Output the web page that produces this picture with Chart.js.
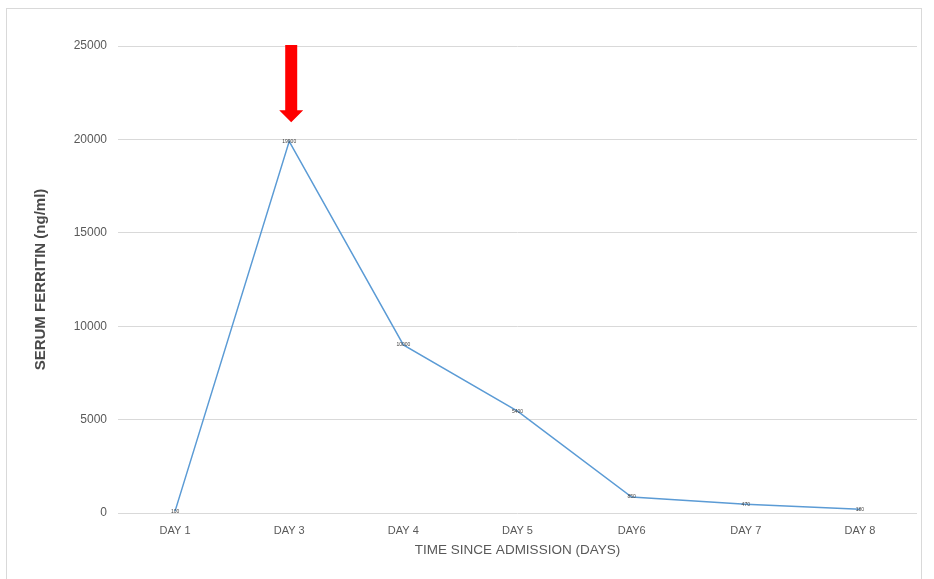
<!DOCTYPE html>
<html><head><meta charset="utf-8">
<script src="https://cdn.jsdelivr.net/npm/chart.js@4.4.1/dist/chart.umd.min.js"></script>
<style>
html,body{margin:0;padding:0;background:#fff;}
#wrap{position:absolute;left:6px;top:8px;width:914px;height:572px;border:1px solid #d9d9d9;background:#fff;}
canvas{display:block;}
</style></head>
<body>
<div id="wrap"><canvas id="c" width="914" height="572"></canvas></div>
<script>
const categories = ['DAY 1','DAY 3','DAY 4','DAY 5','DAY6','DAY 7','DAY 8'];
const ferritin = [100, 19900, 9000, 5450, 850, 470, 200];
const pointLabels = ['100','19900','10000','5400','850','470','180'];
const yTicks = [0, 5000, 10000, 15000, 20000, 25000];
const markedDay = 'DAY 3';

const FONT = "'Liberation Sans',sans-serif";
const grey = '#595959';

const labelPlugin = {
  id: 'labels',
  afterDatasetsDraw(chart) {
    const ctx = chart.ctx;
    const meta = chart.getDatasetMeta(0);
    ctx.save();
    ctx.font = '5px ' + FONT;
    ctx.fillStyle = '#404040';
    ctx.textAlign = 'center';
    ctx.textBaseline = 'middle';
    meta.data.forEach((pt, i) => ctx.fillText(pointLabels[i], pt.x, pt.y));
    ctx.restore();
  }
};

const arrowPlugin = {
  id: 'arrow',
  afterDatasetsDraw(chart) {
    const ctx = chart.ctx;
    const xs = chart.scales.x, ys = chart.scales.y;
    const idx = categories.indexOf(markedDay);
    const x = xs.getPixelForValue(idx) + 2;
    const top = ys.getPixelForValue(25000) - 1;
    const tip = ys.getPixelForValue(ferritin[idx]) - 19;
    const sw = 6, hw = 12, hh = 12;
    ctx.save();
    ctx.fillStyle = '#ff0000';
    ctx.beginPath();
    ctx.moveTo(x - sw, top);
    ctx.lineTo(x + sw, top);
    ctx.lineTo(x + sw, tip - hh);
    ctx.lineTo(x + hw, tip - hh);
    ctx.lineTo(x, tip);
    ctx.lineTo(x - hw, tip - hh);
    ctx.lineTo(x - sw, tip - hh);
    ctx.closePath();
    ctx.fill();
    ctx.restore();
  }
};

new Chart(document.getElementById('c'), {
  type: 'line',
  data: {
    labels: categories,
    datasets: [{
      data: ferritin,
      borderColor: '#5b9bd5',
      borderWidth: 1.5,
      pointRadius: 0,
      tension: 0,
      fill: false
    }]
  },
  options: {
    responsive: false,
    animation: false,
    layout: { padding: { top: 37, right: 4, bottom: 23, left: 0 } },
    plugins: { legend: { display: false }, tooltip: { enabled: false } },
    scales: {
      x: {
        offset: true,
        grid: { display: false, drawTicks: false },
        border: { display: false },
        ticks: { color: grey, font: { family: FONT, size: 11 }, padding: 11 },
        title: { display: true, text: 'TIME SINCE ADMISSION (DAYS)', color: grey,
                 font: { family: FONT, size: 13.5 }, padding: { top: 2, bottom: 0 } },
        afterFit(s) { s.height = 45; }
      },
      y: {
        min: 0, max: 25000,
        afterBuildTicks(s) { s.ticks = yTicks.map(v => ({ value: v })); },
        grid: { color: '#d9d9d9', lineWidth: 1, drawTicks: false },
        border: { display: false },
        ticks: { color: grey, font: { family: FONT, size: 12 }, padding: 11,
                 callback: v => String(v) },
        title: { display: true, text: 'SERUM FERRITIN (ng/ml)', color: '#4a4a4a',
                 font: { family: FONT, size: 15, weight: 'bold' }, padding: { top: 25, bottom: 0 } },
        afterFit(s) { s.width = 111; }
      }
    }
  },
  plugins: [labelPlugin, arrowPlugin]
});
</script>
</body></html>
